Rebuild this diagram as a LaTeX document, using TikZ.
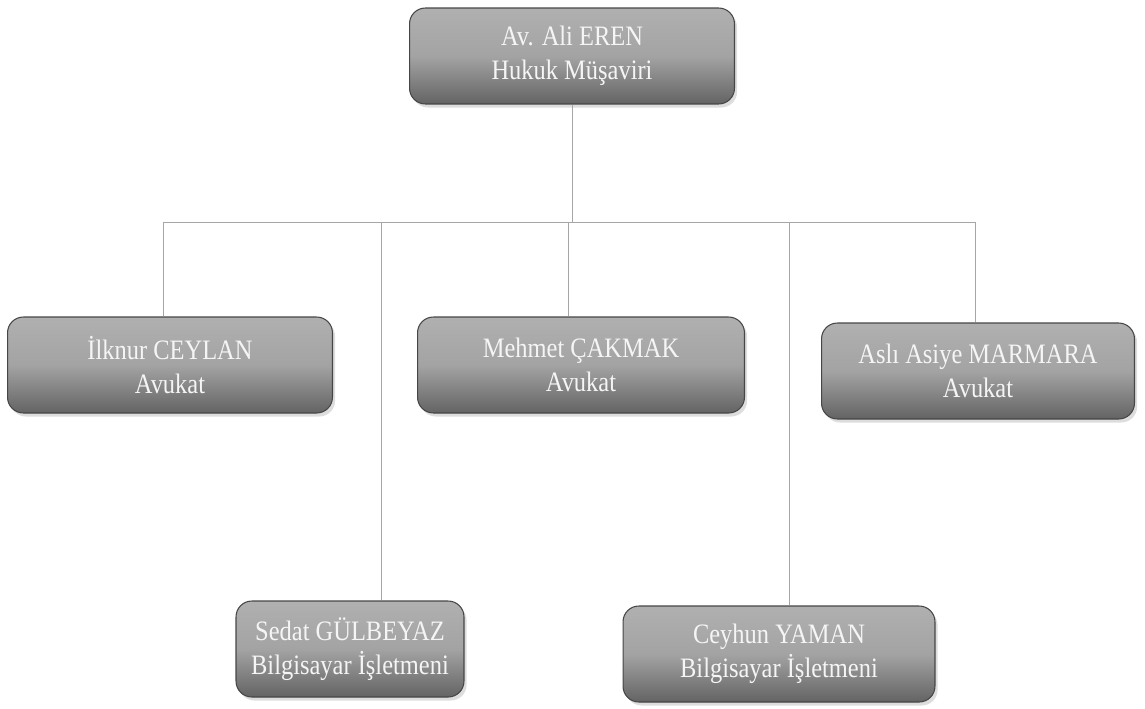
\documentclass[tikz,border=0pt]{standalone}
\usepackage{fontspec}
\setmainfont[FakeStretch=0.87]{Liberation Serif}
\usetikzlibrary{positioning,shadows}

\begin{document}
\begin{tikzpicture}[x=0.02cm, y=-0.02cm,
  person/.style={draw=gray!55!black, line width=0.6pt, rounded corners=9pt,
    top color=gray!62, bottom color=gray!78!black, middle color=gray!72,
    drop shadow={shadow xshift=1.5pt, shadow yshift=-2pt, fill=gray!45, opacity=0.6},
    text=white!92!gray, font=\fontsize{16}{19.5}\selectfont, align=center,
    minimum height=1.92cm, inner sep=2pt},
  link/.style={draw=gray!70, line width=0.5pt}]
\useasboundingbox (0,0) rectangle (1145,708);

% Head of the office
\node[person, minimum width=6.5cm] (eren) at (572,56) {Av. Ali EREN\\Hukuk Müşaviri};

% Lawyers
\node[person, minimum width=6.5cm] (ceylan) at (170,365) {İlknur CEYLAN\\Avukat};
\node[person, minimum width=6.54cm] (cakmak) at (581,365) {Mehmet ÇAKMAK\\Avukat};
\node[person, minimum width=6.26cm] (marmara) at (978,371) {Aslı Asiye MARMARA\\Avukat};

% Computer operators
\node[person, minimum width=4.56cm] (gulbeyaz) at (350,649) {Sedat GÜLBEYAZ\\Bilgisayar İşletmeni};
\node[person, minimum width=6.24cm] (yaman) at (779,654) {Ceyhun YAMAN\\Bilgisayar İşletmeni};

% Branch points on the bar
\coordinate (hub) at (572,222);
\coordinate (b1) at (163,222);
\coordinate (b2) at (381,222);
\coordinate (b3) at (568,222);
\coordinate (b4) at (789,222);
\coordinate (b5) at (975,222);

% Connectors
\draw[link] (eren.south) -- (hub);
\draw[link] (b1) -- (b5);
\draw[link] (b1) -- (ceylan.north -| b1);
\draw[link] (b2) -- (gulbeyaz.north -| b2);
\draw[link] (b3) -- (cakmak.north -| b3);
\draw[link] (b4) -- (yaman.north -| b4);
\draw[link] (b5) -- (marmara.north -| b5);
\end{tikzpicture}
\end{document}
